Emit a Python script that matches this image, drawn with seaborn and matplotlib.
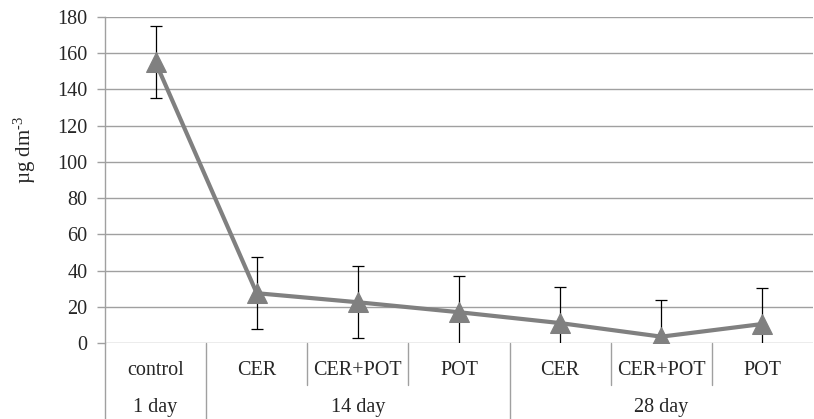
import matplotlib
matplotlib.use("Agg")
import matplotlib.pyplot as plt
import seaborn as sns
import pandas as pd
import numpy as np

treatments = ["control", "CER", "CER+POT", "POT", "CER", "CER+POT", "POT"]
groups = ["1 day", "14 day", "28 day"]
group_sizes = [1, 3, 3]
values = [155, 27.5, 22.5, 17, 11, 3.5, 10.5]
errors = [20, 20, 20, 20, 20, 20, 20]
yticks = [0, 20, 40, 60, 80, 100, 120, 140, 160, 180]

sns.set_style("white")
plt.rcParams['font.family'] = ['Liberation Serif', 'DejaVu Serif']
plt.rcParams['mathtext.fontset'] = 'custom'
plt.rcParams['mathtext.rm'] = 'Liberation Serif'
plt.rcParams['mathtext.it'] = 'Liberation Serif:italic'

W, H = 814, 419
fig = plt.figure(figsize=(W / 100, H / 100), dpi=100)
x0, x1, y0, y1 = 105, 813, 343, 17
ax = fig.add_axes([x0 / W, 1 - y0 / H, (x1 - x0) / W, (y0 - y1) / H])

df = pd.DataFrame({"pos": np.arange(len(values)), "value": values, "err": errors})

ax.errorbar(df["pos"], df["value"], yerr=df["err"], fmt="none", ecolor="black",
            elinewidth=0.9, capsize=4, capthick=0.9, zorder=2)
sns.lineplot(data=df, x="pos", y="value", ax=ax, color="#808080", linewidth=3,
             marker="^", markersize=15, markeredgecolor="#808080",
             markerfacecolor="#808080", zorder=3)

FS = 14.5
ax.set_xlim(-0.5, len(values) - 0.5)
ax.set_ylim(0, 180)
ax.set_yticks(yticks)
ax.set_yticklabels([str(t) for t in yticks], fontsize=FS)
ax.set_xticks([])
ax.set_xlabel("")
ax.set_ylabel("")
fig.text(25 / W, 1 - 150 / H, "µg dm$^{\\mathrm{\\text{-}3}}$", rotation=90,
         ha="center", va="center", fontsize=15)
ax.grid(axis="y", color="#a0a0a0", linewidth=1)
ax.grid(axis="x", visible=False)
for s in ["top", "right", "bottom"]:
    ax.spines[s].set_visible(False)
ax.spines["left"].set_color("#a0a0a0")
ax.spines["left"].set_linewidth(1)
ax.tick_params(axis="y", length=6, width=1, color="#a0a0a0", left=True, pad=6.5)

trans = ax.get_xaxis_transform()
row1_bottom = -(385 - 343) / 326
row_bottom = -(419 - 343) / 326
ax.plot([-0.5, -0.5], [0, row_bottom], transform=trans, color="#a0a0a0", lw=1, clip_on=False)
for i, t in enumerate(treatments):
    ax.text(i, -(370 - 343) / 326, t, transform=trans, ha="center", va="center", fontsize=FS)
bounds = np.cumsum(group_sizes)[:-1] - 0.5
for i in range(1, len(treatments)):
    b = i - 0.5
    yb = row_bottom if b in bounds else row1_bottom
    ax.plot([b, b], [0, yb], transform=trans, color="#a0a0a0", lw=1, clip_on=False)
start = 0
for g, n in zip(groups, group_sizes):
    c = start + (n - 1) / 2
    ax.text(c, -(407 - 343) / 326, g, transform=trans, ha="center", va="center", fontsize=FS)
    start += n

fig.savefig("out.png", dpi=100)
